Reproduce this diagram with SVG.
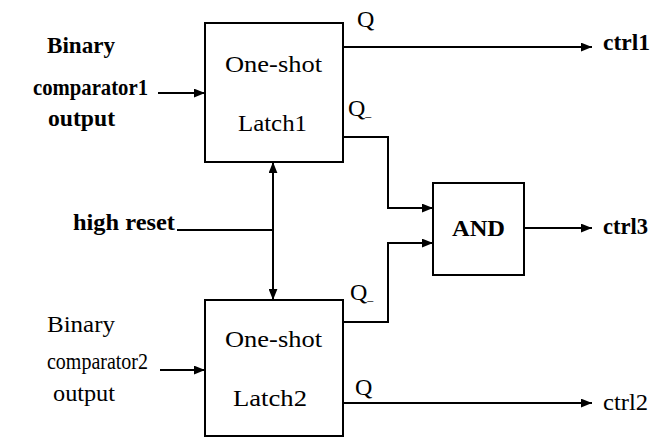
<svg xmlns="http://www.w3.org/2000/svg" width="652" height="439" viewBox="0 0 652 439" font-family="'Liberation Serif', 'Times New Roman', 'DejaVu Serif', serif">
<style>
text{font-family:'Liberation Serif','Times New Roman','DejaVu Serif',serif;font-size:24px;fill:#000}
.b{font-weight:bold}
.s{font-size:23px}
.box{fill:#fff;stroke:#000;stroke-width:2}
.ln{fill:none;stroke:#000;stroke-width:2}
</style>
<defs>
<marker id="ah" viewBox="0 0 10 8" refX="10" refY="4" markerWidth="11" markerHeight="9" markerUnits="userSpaceOnUse" orient="auto">
<path d="M0,0 L10,4 L0,8 Z" fill="#000"/>
</marker>
</defs>
<rect width="652" height="439" fill="#fff"/>
<g id="connectors">
<path class="ln" d="M158,93 H205" marker-end="url(#ah)"/>
<path class="ln" d="M160,370 H205" marker-end="url(#ah)"/>
<path class="ln" d="M343,47 H592" marker-end="url(#ah)"/>
<path class="ln" d="M343,137 H388 V208 H433" marker-end="url(#ah)"/>
<path class="ln" d="M343,322 H388 V243 H433" marker-end="url(#ah)"/>
<path class="ln" d="M524,228 H592" marker-end="url(#ah)"/>
<path class="ln" d="M343,403 H592" marker-end="url(#ah)"/>
<path class="ln" d="M177,230 H273"/>
<path class="ln" d="M273,230 V162" marker-end="url(#ah)"/>
<path class="ln" d="M273,230 V300" marker-end="url(#ah)"/>
</g>
<g id="input1">
<text class="b" x="47" y="53" textLength="68" lengthAdjust="spacingAndGlyphs">Binary</text>
<text class="b s" x="33" y="95" textLength="115" lengthAdjust="spacingAndGlyphs">comparator1</text>
<text class="b" x="48" y="126" textLength="67" lengthAdjust="spacingAndGlyphs">output</text>
</g>
<g id="input2">
<text x="47" y="332" textLength="68" lengthAdjust="spacingAndGlyphs">Binary</text>
<text class="s" x="47" y="369" textLength="101" lengthAdjust="spacingAndGlyphs">comparator2</text>
<text x="53" y="401" textLength="62" lengthAdjust="spacingAndGlyphs">output</text>
</g>
<g id="highreset">
<text class="b" x="73" y="230" textLength="102" lengthAdjust="spacingAndGlyphs">high reset</text>
</g>
<g id="latch1">
<rect class="box" x="205" y="23" width="138" height="139"/>
<text x="225" y="72" textLength="97" lengthAdjust="spacingAndGlyphs">One-shot</text>
<text x="238" y="131" textLength="69" lengthAdjust="spacingAndGlyphs">Latch1</text>
</g>
<g id="latch2">
<rect class="box" x="205" y="300" width="138" height="136"/>
<text x="225" y="347" textLength="97" lengthAdjust="spacingAndGlyphs">One-shot</text>
<text x="233" y="406" textLength="74" lengthAdjust="spacingAndGlyphs">Latch2</text>
</g>
<g id="and">
<rect class="box" x="433" y="183" width="91" height="92"/>
<text class="b" x="452" y="236" textLength="53" lengthAdjust="spacingAndGlyphs">AND</text>
</g>
<g id="labels">
<text x="357" y="27">Q</text>
<text x="348" y="116">Q<tspan font-size="12">_</tspan></text>
<text x="350" y="300">Q<tspan font-size="12">_</tspan></text>
<text x="355" y="395">Q</text>
<text class="b" x="603" y="50" textLength="47" lengthAdjust="spacingAndGlyphs">ctrl1</text>
<text class="b" x="603" y="234" textLength="45" lengthAdjust="spacingAndGlyphs">ctrl3</text>
<text x="603" y="410" textLength="45" lengthAdjust="spacingAndGlyphs">ctrl2</text>
</g>
</svg>
